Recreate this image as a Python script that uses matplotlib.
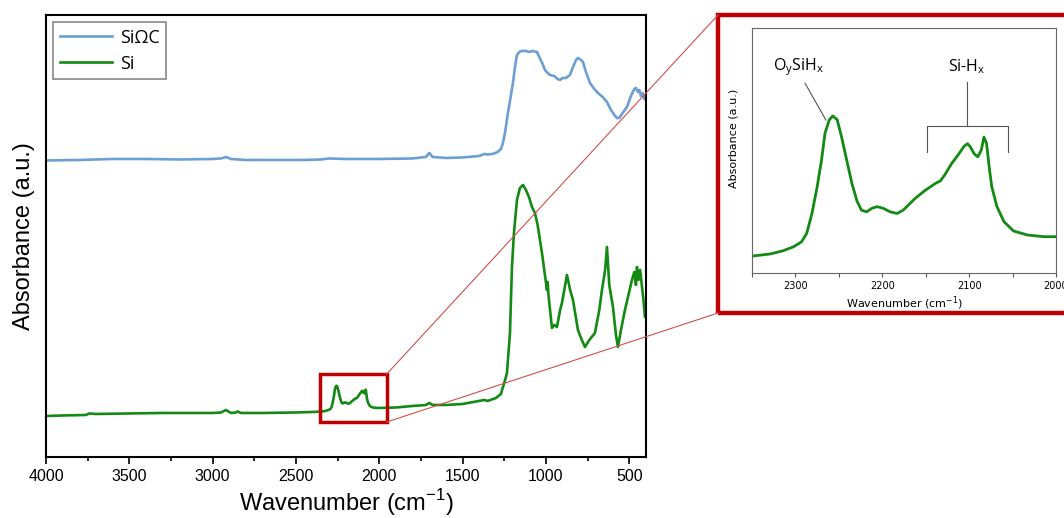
import matplotlib.pyplot as plt
from matplotlib.patches import Rectangle
from matplotlib.lines import Line2D

# SiOC spectrum (wavenumber cm-1, absorbance a.u.)
sioc_wn = [4000, 3800, 3600, 3400, 3200, 3000, 2950, 2920, 2890, 2800, 2600, 2450, 2350,
           2300, 2200, 2000, 1800, 1720, 1700, 1680, 1600, 1500, 1400, 1370, 1350, 1320,
           1290, 1270, 1258, 1245, 1230, 1215, 1198, 1185, 1174, 1160, 1144, 1120, 1100,
           1080, 1054, 1040, 1020, 1006, 990, 976, 950, 930, 916, 900, 880, 856, 840, 820,
           808, 790, 778, 760, 736, 710, 688, 660, 634, 610, 590, 574, 560, 540, 514, 490,
           470, 460, 448, 440, 430, 420, 410, 400]
sioc_abs = [2.965, 2.97, 2.98, 2.98, 2.975, 2.98, 2.985, 3.00, 2.98, 2.97, 2.97, 2.97, 2.975,
            2.985, 2.98, 2.98, 2.985, 3.00, 3.04, 3.00, 2.99, 2.995, 3.01, 3.03, 3.025, 3.03,
            3.05, 3.08, 3.14, 3.25, 3.42, 3.57, 3.74, 3.91, 4.02, 4.05, 4.06, 4.06, 4.05,
            4.06, 4.05, 4.00, 3.93, 3.87, 3.84, 3.82, 3.81, 3.78, 3.77, 3.79, 3.79, 3.82, 3.89, 3.97,
            3.99, 3.97, 3.95, 3.85, 3.74, 3.68, 3.64, 3.60, 3.55, 3.47, 3.42, 3.39, 3.39, 3.44, 3.50, 3.61,
            3.68, 3.69, 3.65, 3.67, 3.61, 3.64, 3.58, 3.57]

# Si spectrum
si_wn = [4000, 3900, 3760, 3740, 3700, 3500, 3300, 3000, 2950, 2920, 2890, 2860, 2850, 2830,
         2700, 2500, 2400,
         2349, 2329, 2314, 2302, 2293, 2287, 2281, 2275, 2270, 2266, 2261, 2257, 2252, 2247,
         2241, 2235, 2229, 2224, 2218, 2212, 2206, 2199, 2191, 2183, 2176, 2169, 2162, 2151,
         2139, 2133, 2128, 2120, 2112, 2106, 2102, 2099, 2094, 2090, 2086, 2083, 2080, 2077,
         2074, 2068, 2060, 2049, 2033, 2014, 2000,
         1900, 1800, 1720, 1700, 1680, 1600, 1500, 1400, 1370, 1350, 1300, 1270, 1258, 1245,
         1234, 1216, 1204, 1192, 1174, 1156, 1138, 1120, 1100, 1084, 1066, 1050, 1024, 994,
         990, 985, 964, 950, 934, 915, 904, 874, 855, 838, 808, 785, 766, 740, 706, 680, 664,
         645, 634, 620, 598, 580, 568, 550, 526, 505, 484, 470, 460, 454, 445, 435, 424, 415,
         406, 400]
si_abs = [0.41, 0.415, 0.42, 0.435, 0.43, 0.435, 0.44, 0.44, 0.445, 0.47, 0.44, 0.445, 0.455, 0.44,
          0.44, 0.445, 0.45,
          0.455, 0.4587, 0.4647, 0.472, 0.481, 0.4967, 0.533, 0.582, 0.631, 0.680, 0.705, 0.712,
          0.705, 0.674, 0.631, 0.588, 0.555, 0.539, 0.536, 0.5425, 0.5455, 0.5425, 0.536, 0.533,
          0.539, 0.550, 0.561, 0.575, 0.588, 0.593, 0.604, 0.625, 0.642, 0.656, 0.661, 0.656,
          0.642, 0.637, 0.6495, 0.673, 0.662, 0.619, 0.582, 0.5455, 0.518, 0.5009, 0.4935,
          0.4904, 0.4904,
          0.495, 0.51, 0.52, 0.54, 0.52, 0.52, 0.53, 0.56, 0.57, 0.56, 0.59, 0.63, 0.70, 0.77,
          0.84, 1.24, 1.90, 2.24, 2.57, 2.69, 2.72, 2.67, 2.59, 2.50, 2.44, 2.32, 2.04, 1.67,
          1.75, 1.62, 1.29, 1.32, 1.30, 1.47, 1.54, 1.82, 1.67, 1.57, 1.27, 1.17, 1.10, 1.17, 1.24, 1.47, 1.67,
          1.87, 2.10, 1.72, 1.50, 1.22, 1.10, 1.27, 1.47, 1.62, 1.77, 1.85, 1.72, 1.90, 1.77, 1.87, 1.70, 1.57,
          1.40, 1.42]

blue = '#6c9fd4'
green = '#138a13'
red = '#c00000'

fig = plt.figure(figsize=(10.64, 5.18), dpi=100)
ax = fig.add_axes([0.0432, 0.1178, 0.5639, 0.8533])
ax.plot(sioc_wn, sioc_abs, color=blue, lw=1.9, label='SiΩC')
ax.plot(si_wn, si_abs, color=green, lw=1.9, label='Si')
ax.set_xlim(4000, 400)
ax.set_ylim(0, 4.42)
ax.set_yticks([])
ax.set_xticks([4000, 3500, 3000, 2500, 2000, 1500, 1000, 500])
ax.set_xticks(range(3750, 400, -500), minor=True)
ax.tick_params(axis='x', direction='out', length=5, width=1.2, labelsize=11.5, pad=4)
ax.tick_params(axis='x', which='minor', direction='out', length=3, width=1.2)
for lab in ax.get_xticklabels():
    lab.set_family('Liberation Sans')
for s in ax.spines.values():
    s.set_linewidth(1.5)
ax.set_xlabel('Wavenumber (cm$^\\mathregular{-1}$)', fontsize=17, family='Liberation Sans', labelpad=2)
ax.set_ylabel('Absorbance (a.u.)', fontsize=17, family='Liberation Sans', labelpad=8)
leg = ax.legend(loc='upper left', prop={'family': 'Open Sans', 'size': 13}, fancybox=False,
                edgecolor='#888888', framealpha=1, handlelength=2.9, borderpad=0.35,
                labelspacing=0.45, handletextpad=0.45, borderaxespad=0.4)
leg.get_frame().set_linewidth(1.2)

# small zoom box on the main plot
x0, x1, y0, y1 = 2355, 1955, 0.35, 0.83
ax.add_patch(Rectangle((x1, y0), x0 - x1, y1 - y0, fill=False, edgecolor=red, lw=2.5, zorder=5))

# inset
ins = fig.add_axes([0.7068, 0.473, 0.2857, 0.473])
ins.plot(si_wn, si_abs, color=green, lw=2.0)
ins.set_xlim(2350, 2000)
ins.set_ylim(0.4238, 0.8733)
ins.set_yticks([])
ins.set_xticks([2300, 2200, 2100, 2000])
ins.set_xticks([2350, 2250, 2150, 2050], minor=True)
ins.tick_params(axis='x', direction='out', length=3, width=0.8, color='#555555', labelsize=7, pad=3)
ins.tick_params(axis='x', which='minor', direction='out', length=3, width=0.8, color='#555555')
for s in ins.spines.values():
    s.set_color('#666666')
    s.set_linewidth(0.8)
ins.set_xlabel('Wavenumber (cm$^\\mathregular{-1}$)', fontsize=8, labelpad=2)
ins.set_ylabel('Absorbance (a.u.)', fontsize=8)
ins.yaxis.set_label_coords(-0.045, 0.55)
ins.text(2296, 0.802, 'O$_\\mathregular{y}$SiH$_\\mathregular{x}$', fontsize=11.5, family='Open Sans',
         ha='center', va='center')
ins.text(2103, 0.802, 'Si-H$_\\mathregular{x}$', fontsize=11.5, family='Open Sans', ha='center', va='center')
ins.plot([2289, 2265], [0.772, 0.7045], color='#555555', lw=0.8)
ins.plot([2102, 2102], [0.774, 0.6935], color='#555555', lw=0.8)
ins.plot([2149, 2149, 2055.5, 2055.5], [0.6464, 0.6935, 0.6935, 0.6464], color='#555555', lw=0.8)

# big red frame and connecting lines (figure coordinates)
bx0, by0, by1 = 718 / 1064, (518 - 313) / 518, (518 - 15) / 518
fig.patches.append(Rectangle((bx0, by0), 1.02 - bx0, by1 - by0, transform=fig.transFigure,
                             fill=False, edgecolor=red, lw=3.2, clip_on=False))
to_fig = fig.transFigure.inverted()
p_top = to_fig.transform(ax.transData.transform((x1, y1)))
p_bot = to_fig.transform(ax.transData.transform((x1, y0)))
fig.lines.append(Line2D([p_top[0], bx0], [p_top[1], by1], transform=fig.transFigure,
                        color='#d05050', lw=0.8))
fig.lines.append(Line2D([p_bot[0], bx0], [p_bot[1], by0], transform=fig.transFigure,
                        color='#d05050', lw=0.8))

fig.savefig('out.png', dpi=100)
